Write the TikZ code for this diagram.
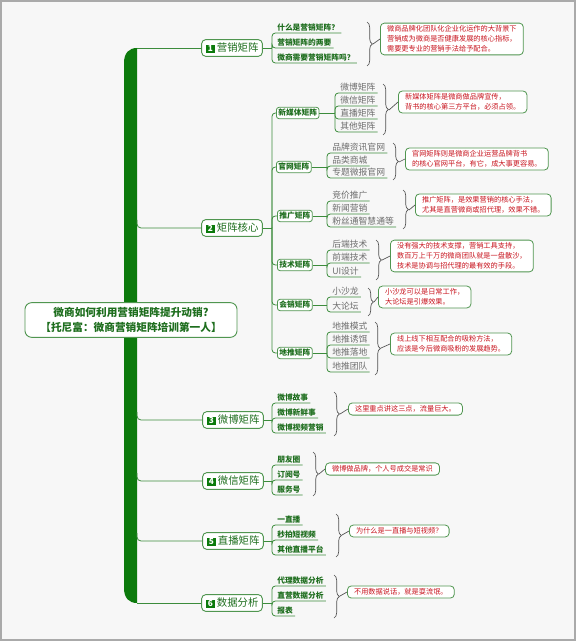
\documentclass[tikz,border=0pt]{standalone}
\usepackage{fontspec}
\setmainfont{Noto Sans CJK SC}
\usetikzlibrary{decorations.pathreplacing}
\definecolor{bargreen}{RGB}{12,122,12}
\definecolor{linegreen}{RGB}{60,140,60}
\definecolor{boxgreen}{RGB}{80,150,80}
\definecolor{textgreen}{RGB}{30,110,30}
\definecolor{leafgray}{RGB}{110,110,110}
\definecolor{notered}{RGB}{200,20,30}
\definecolor{bggray}{RGB}{247,247,247}
\definecolor{framegray}{RGB}{170,170,170}
\definecolor{bracegray}{RGB}{80,80,80}
\newcommand\numbadge[1]{{\setlength{\fboxsep}{0.8pt}\colorbox{bargreen}{\makebox[5.6pt][c]{\textcolor{white}{\fontsize{6.2pt}{6.5pt}\selectfont\bfseries #1}}}}}
\tikzset{
  conn/.style={draw=linegreen, line width=0.6pt},
  tipline/.style={draw=bracegray, line width=0.5pt},
  rootbox/.style={draw=boxgreen, fill=white, rounded corners=5pt, line width=0.7pt, text=textgreen, font=\fontsize{8pt}{11pt}\selectfont\bfseries, align=center, minimum width=159pt, minimum height=26pt, inner sep=2pt},
  mainbox/.style={draw=boxgreen, fill=white, rounded corners=3pt, line width=0.7pt, text=textgreen, font=\fontsize{7.8pt}{9pt}\selectfont, minimum height=12.5pt, minimum width=45.5pt, inner sep=1.5pt},
  subbox/.style={draw=boxgreen, fill=white, rounded corners=2pt, line width=0.6pt, text=textgreen, font=\fontsize{5.8pt}{7pt}\selectfont\bfseries, minimum height=8.5pt, inner xsep=1.5pt, inner ysep=1pt, anchor=west},
  leafa/.style={anchor=south west, inner xsep=1.5pt, inner ysep=1pt, text=textgreen, font=\fontsize{5.8pt}{7pt}\selectfont\bfseries},
  leafb/.style={anchor=south west, inner xsep=1.5pt, inner ysep=0.8pt, text=leafgray, font=\fontsize{6.6pt}{7.5pt}\selectfont},
  note/.style={draw=boxgreen, fill=white, rounded corners=3pt, line width=0.6pt, text=notered, font=\fontsize{5.4pt}{7.4pt}\selectfont, align=left, anchor=west, inner xsep=5pt, inner ysep=2pt},
  bracket/.style={draw=bracegray, line width=0.5pt, decorate, decoration={brace, amplitude=4pt}},
}
\begin{document}
\begin{tikzpicture}[x=0.75pt, y=-0.75pt]
\useasboundingbox (0,0) rectangle (576,641);
\fill[bggray] (0,0) rectangle (576,641);
\draw[framegray, line width=1.2pt] (0.8,0.8) rectangle (575.2,640.2);

% thick trunk
\fill[bargreen] (137,48) .. controls (129,48) and (124,53) .. (124,63) -- (124,588) .. controls (124,598) and (129,603) .. (137,603) -- cycle;
\coordinate (j1) at (137,48);
\coordinate (j2) at (137,220);
\coordinate (j3) at (137,412);
\coordinate (j4) at (137,473);
\coordinate (j5) at (137,533);
\coordinate (j6) at (137,603);

% root
\node[rootbox] (root) at (131,320) {微商如何利用营销矩阵提升动销?\\【托尼富：微商营销矩阵培训第一人】};

% main nodes
\node[mainbox] (m1) at (232,48) {\numbadge{1}\,营销矩阵};
\node[mainbox] (m2) at (232,228) {\numbadge{2}\,矩阵核心};
\node[mainbox] (m3) at (233,420) {\numbadge{3}\,微博矩阵};
\node[mainbox] (m4) at (233,481) {\numbadge{4}\,微信矩阵};
\node[mainbox] (m5) at (233,541) {\numbadge{5}\,直播矩阵};
\node[mainbox] (m6) at (232,603) {\numbadge{6}\,数据分析};

\draw[conn] (j1) -- (m1.west);
\draw[conn] (j6) -- (m6.west);
\foreach \j/\m in {j2/m2,j3/m3,j4/m4,j5/m5} \draw[conn, rounded corners=3pt] (\j) |- (\m.west);

% ---------- branch 1
\coordinate (c1) at (272,48);
\node[leafa] (l11) at (275,33) {什么是营销矩阵？};
\node[leafa] (l12) at (275,48) {营销矩阵的两要};
\node[leafa] (l13) at (275,63) {微商需要营销矩阵吗？};
\draw[conn] (m1.east) -- (c1);
\foreach \l in {l11,l12,l13} \draw[conn, rounded corners=2.5pt] (c1) |- (\l.south east);
\draw[bracket] (367,22) -- (367,66);
\coordinate (t1) at (373,44);
\node[note] (n1) at (380,39) {微商品牌化团队化企业化运作的大背景下\\营销成为微商是否健康发展的核心指标，\\需要更专业的营销手法给予配合。};
\draw[tipline] (t1) -- (n1.west);

% ---------- branch 2
\coordinate (c2) at (272,228);
\draw[conn] (m2.east) -- (c2);
\node[subbox] (s1) at (276,113) {新媒体矩阵};
\node[subbox] (s2) at (276,167) {官网矩阵};
\node[subbox] (s3) at (277,216) {推广矩阵};
\node[subbox] (s4) at (277,265) {技术矩阵};
\node[subbox] (s5) at (277,305) {会销矩阵};
\node[subbox] (s6) at (277,353) {地推矩阵};
\foreach \s in {s1,s2,s3,s4,s5,s6} \draw[conn, rounded corners=2.5pt] (c2) |- (\s.west);

% s1 group
\coordinate (cs1) at (335,113);
\draw[conn] (s1.east) -- (cs1);
\node[leafb] (a1) at (338,93) {微博矩阵};
\node[leafb] (a2) at (338,106) {微信矩阵};
\node[leafb] (a3) at (338,119) {直播矩阵};
\node[leafb] (a4) at (338,132) {其他矩阵};
\foreach \l in {a1,a2,a3,a4} \draw[conn, rounded corners=2.5pt] (cs1) |- (\l.south east);
\draw[bracket] (383,84) -- (383,135);
\coordinate (ts1) at (389,110);
\node[note] (ns1) at (398,102) {新媒体矩阵是微商做品牌宣传，\\背书的核心第三方平台，必须占领。};
\draw[tipline] (ts1) -- (ns1.west);

% s2 group
\coordinate (cs2) at (327,167);
\draw[conn] (s2.east) -- (cs2);
\node[leafb] (b1) at (330,153) {品牌资讯官网};
\node[leafb] (b2) at (330,166) {品类商城};
\node[leafb] (b3) at (330,178) {专题微报官网};
\foreach \l in {b1,b2,b3} \draw[conn, rounded corners=2.5pt] (cs2) |- (\l.south east);
\draw[bracket] (393,143) -- (393,180);
\coordinate (ts2) at (399,162);
\node[note] (ns2) at (405,159) {官网矩阵则是微商企业运营品牌背书\\的核心官网平台，有它，成大事更容易。};
\draw[tipline] (ts2) -- (ns2.west);

% s3 group
\coordinate (cs3) at (327,216);
\draw[conn] (s3.east) -- (cs3);
\node[leafb] (d1) at (330,201) {竞价推广};
\node[leafb] (d2) at (330,214) {新闻营销};
\node[leafb] (d3) at (330,227) {粉丝通智慧通等};
\foreach \l in {d1,d2,d3} \draw[conn, rounded corners=2.5pt] (cs3) |- (\l.south east);
\draw[bracket] (403,190) -- (403,229);
\coordinate (ts3) at (409,210);
\node[note] (ns3) at (415,205) {推广矩阵，是效果营销的核心手法，\\尤其是直营微商或招代理，效果不错。};
\draw[tipline] (ts3) -- (ns3.west);

% s4 group
\coordinate (cs4) at (327,265);
\draw[conn] (s4.east) -- (cs4);
\node[leafb] (e1) at (330,250) {后端技术};
\node[leafb] (e2) at (330,263) {前端技术};
\node[leafb] (e3) at (330,277) {UI设计};
\foreach \l in {e1,e2,e3} \draw[conn, rounded corners=2.5pt] (cs4) |- (\l.south east);
\draw[bracket] (376,240) -- (376,280);
\coordinate (ts4) at (382,260);
\node[note] (ns4) at (390,256) {没有强大的技术支撑，营销工具支持，\\数百万上千万的微商团队就是一盘散沙，\\技术是协调与招代理的最有效的手段。};
\draw[tipline] (ts4) -- (ns4.west);

% s5 group
\coordinate (cs5) at (327,305);
\draw[conn] (s5.east) -- (cs5);
\node[leafb] (f1) at (330,297) {小沙龙};
\node[leafb] (f2) at (330,312) {大论坛};
\foreach \l in {f1,f2} \draw[conn, rounded corners=2.5pt] (cs5) |- (\l.south east);
\draw[bracket] (368,288) -- (368,316);
\coordinate (ts5) at (374,302);
\node[note] (ns5) at (378,297) {小沙龙可以是日常工作，\\大论坛是引爆效果。};
\draw[tipline] (ts5) -- (ns5.west);

% s6 group
\coordinate (cs6) at (327,353);
\draw[conn] (s6.east) -- (cs6);
\node[leafb] (g1) at (330,332) {地推模式};
\node[leafb] (g2) at (330,345) {地推诱饵};
\node[leafb] (g3) at (330,358) {地推落地};
\node[leafb] (g4) at (330,372) {地推团队};
\foreach \l in {g1,g2,g3,g4} \draw[conn, rounded corners=2.5pt] (cs6) |- (\l.south east);
\draw[bracket] (375,322) -- (375,375);
\coordinate (ts6) at (381,348);
\node[note] (ns6) at (390,344) {线上线下相互配合的吸粉方法，\\应该是今后微商吸粉的发展趋势。};
\draw[tipline] (ts6) -- (ns6.west);

% ---------- branch 3
\coordinate (c3) at (272,420);
\draw[conn] (m3.east) -- (c3);
\node[leafa] (h1) at (275,403) {微博故事};
\node[leafa] (h2) at (275,418) {微博新鲜事};
\node[leafa] (h3) at (275,433) {微博视频营销};
\foreach \l in {h1,h2,h3} \draw[conn, rounded corners=2.5pt] (c3) |- (\l.south east);
\draw[bracket] (334,392) -- (334,436);
\coordinate (t3) at (340,414);
\node[note] (n3) at (348,409) {这里重点讲这三点，流量巨大。};
\draw[tipline] (t3) -- (n3.west);

% ---------- branch 4
\coordinate (c4) at (272,481);
\draw[conn] (m4.east) -- (c4);
\node[leafa] (k1) at (275,465) {朋友圈};
\node[leafa] (k2) at (275,480) {订阅号};
\node[leafa] (k3) at (275,495) {服务号};
\foreach \l in {k1,k2,k3} \draw[conn, rounded corners=2.5pt] (c4) |- (\l.south east);
\draw[bracket] (313,452) -- (313,496);
\coordinate (t4) at (319,474);
\node[note] (n4) at (325,469) {微博做品牌，个人号成交是常识};
\draw[tipline] (t4) -- (n4.west);

% ---------- branch 5
\coordinate (c5) at (272,541);
\draw[conn] (m5.east) -- (c5);
\node[leafa] (p1) at (275,525) {一直播};
\node[leafa] (p2) at (275,540) {秒拍短视频};
\node[leafa] (p3) at (275,555) {其他直播平台};
\foreach \l in {p1,p2,p3} \draw[conn, rounded corners=2.5pt] (c5) |- (\l.south east);
\draw[bracket] (336,514) -- (336,557);
\coordinate (t5) at (342,535);
\node[note] (n5) at (349,531) {为什么是一直播与短视频？};
\draw[tipline] (t5) -- (n5.west);

% ---------- branch 6
\coordinate (c6) at (272,603);
\draw[conn] (m6.east) -- (c6);
\node[leafa] (q1) at (275,586) {代理数据分析};
\node[leafa] (q2) at (275,601) {直营数据分析};
\node[leafa] (q3) at (275,616) {报表};
\foreach \l in {q1,q2,q3} \draw[conn, rounded corners=2.5pt] (c6) |- (\l.south east);
\draw[bracket] (334,575) -- (334,618);
\coordinate (t6) at (340,596);
\node[note] (n6) at (347,592) {不用数据说话，就是耍流氓。};
\draw[tipline] (t6) -- (n6.west);
\end{tikzpicture}
\end{document}
